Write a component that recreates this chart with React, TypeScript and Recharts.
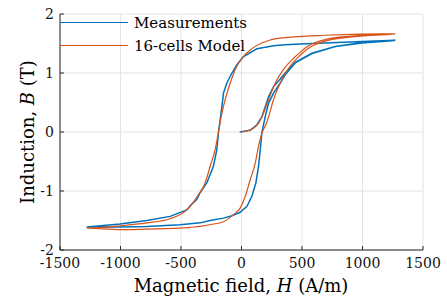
import React from "react"
import { LineChart, Line, XAxis, YAxis, CartesianGrid } from "recharts"

// Measurements: initial magnetisation curve, then descending branch, then ascending branch
const measH = [
    -15, 72, 127, 169, 196, 224, 265, 320, 361, 444, 582, 775, 996, 1271,
    996, 692, 485, 361, 265, 127, 17, -38, -79, -121, -149, -162, -176, -190, -204, -232, -286, -342, -369, -424, -452, -590, -782, -1003, -1279,
    -1003, -782, -507, -424, -342, -259, -149, -79, -11, 45, 86, 119, 141, 155, 169, 196, 224, 265, 320, 361, 444, 582, 775, 996, 1271,
]
const measB = [
    0, 0.03, 0.12, 0.26, 0.43, 0.6, 0.77, 0.9, 1.0, 1.18, 1.335, 1.45, 1.515, 1.555,
    1.535, 1.51, 1.49, 1.48, 1.46, 1.41, 1.28, 1.14, 1.0, 0.83, 0.66, 0.43, 0.21, 0, -0.3, -0.58, -0.86, -1.03, -1.14, -1.25, -1.32, -1.43, -1.5, -1.56, -1.61,
    -1.61, -1.6, -1.57, -1.555, -1.54, -1.5, -1.46, -1.42, -1.36, -1.26, -1.09, -0.86, -0.58, -0.3, 0, 0.26, 0.49, 0.66, 0.83, 0.97, 1.17, 1.33, 1.45, 1.51, 1.55,
]

// 16-cells model: initial curve, then descending branch, then ascending branch
const modelH = [
    0, 86, 141, 182, 224, 279, 347, 430, 485, 554, 692, 913, 1271,
    996, 692, 361, 237, 72, 3, -52, -93, -135, -168, -190, -218, -259, -300, -356, -424, -452, -590, -782, -1003, -1279,
    -1003, -782, -507, -424, -342, -259, -149, -66, -11, 31, 72, 113, 141, 172, 200, 224, 265, 320, 389, 485, 554, 692, 913, 1271,
]
const modelB = [
    0, 0.05, 0.15, 0.32, 0.55, 0.83, 1.06, 1.25, 1.35, 1.46, 1.565, 1.625, 1.665,
    1.66, 1.64, 1.6, 1.56, 1.39, 1.25, 1.06, 0.83, 0.55, 0.26, 0, -0.3, -0.58, -0.86, -1.06, -1.26, -1.32, -1.47, -1.54, -1.59, -1.63,
    -1.656, -1.645, -1.63, -1.615, -1.6, -1.57, -1.52, -1.4, -1.29, -1.09, -0.81, -0.53, -0.24, 0, 0.12, 0.26, 0.55, 0.83, 1.08, 1.3, 1.42, 1.54, 1.61, 1.66,
]

const xTicks = [-1500, -1000, -500, 0, 500, 1000, 1500]
const yTicks = [-2, -1, 0, 1, 2]

const measData = measH.map((h, i) => ({ h, b: measB[i] }))
const modelData = modelH.map((h, i) => ({ h, b: modelB[i] }))

const FONT = "DejaVu Serif"
const BLUE = "#0072BD"
const ORANGE = "#D95319"

const tickStyle = { fontFamily: FONT, fontSize: 14, fill: "#111" }

export default function App() {
    return (
        <div style={{ position: "fixed", left: 0, top: 0, width: 447, height: 301, background: "#fff" }}>
            <LineChart width={447} height={301} margin={{ top: 14, right: 24, left: 0, bottom: 0 }}>
                <CartesianGrid stroke="#e4e4e4" strokeWidth={1} />
                <XAxis
                    dataKey="h"
                    type="number"
                    domain={[-1500, 1500]}
                    ticks={xTicks}
                    allowDataOverflow
                    height={51}
                    tickSize={-4}
                    tickMargin={12}
                    stroke="#262626"
                    tick={tickStyle}
                    interval={0}
                />
                <XAxis
                    xAxisId="top"
                    orientation="top"
                    type="number"
                    domain={[-1500, 1500]}
                    ticks={xTicks}
                    height={0}
                    tickSize={-4}
                    tickFormatter={() => ""}
                    stroke="#262626"
                />
                <YAxis
                    type="number"
                    domain={[-2, 2]}
                    ticks={yTicks}
                    allowDataOverflow
                    width={60}
                    tickSize={-4}
                    tickMargin={10}
                    stroke="#262626"
                    tick={tickStyle}
                    interval={0}
                />
                <YAxis
                    yAxisId="right"
                    orientation="right"
                    type="number"
                    domain={[-2, 2]}
                    ticks={yTicks}
                    width={0}
                    tickSize={-4}
                    tickFormatter={() => ""}
                    stroke="#262626"
                />
                <Line
                    data={measData}
                    dataKey="b"
                    type="linear"
                    stroke={BLUE}
                    strokeWidth={1.5}
                    dot={false}
                    isAnimationActive={false}
                />
                <Line
                    data={modelData}
                    dataKey="b"
                    type="monotone"
                    stroke={ORANGE}
                    strokeWidth={1.2}
                    dot={false}
                    isAnimationActive={false}
                />
            </LineChart>

            {/* legend, no box, top-left inside the axes */}
            <div style={{ position: "absolute", left: 60, top: 11, fontFamily: FONT, fontSize: 15, color: "#000", lineHeight: "22px" }}>
                <div style={{ display: "flex", alignItems: "center", height: 23 }}>
                    <div style={{ width: 68, height: 0, borderTop: `1.3px solid ${BLUE}` }} />
                    <span style={{ marginLeft: 6 }}>Measurements</span>
                </div>
                <div style={{ display: "flex", alignItems: "center", height: 23 }}>
                    <div style={{ width: 68, height: 0, borderTop: `1.3px solid ${ORANGE}` }} />
                    <span style={{ marginLeft: 6 }}>16-cells Model</span>
                </div>
            </div>

            <div style={{ position: "absolute", left: 241, top: 285, transform: "translate(-50%, -50%)", fontFamily: FONT, fontSize: 18, whiteSpace: "nowrap" }}>
                Magnetic field, <i>H</i> (A/m)
            </div>
            <div style={{ position: "absolute", left: 27, top: 132, transform: "translate(-50%, -50%) rotate(-90deg)", fontFamily: FONT, fontSize: 18, whiteSpace: "nowrap" }}>
                Induction, <i>B</i> (T)
            </div>
        </div>
    )
}
